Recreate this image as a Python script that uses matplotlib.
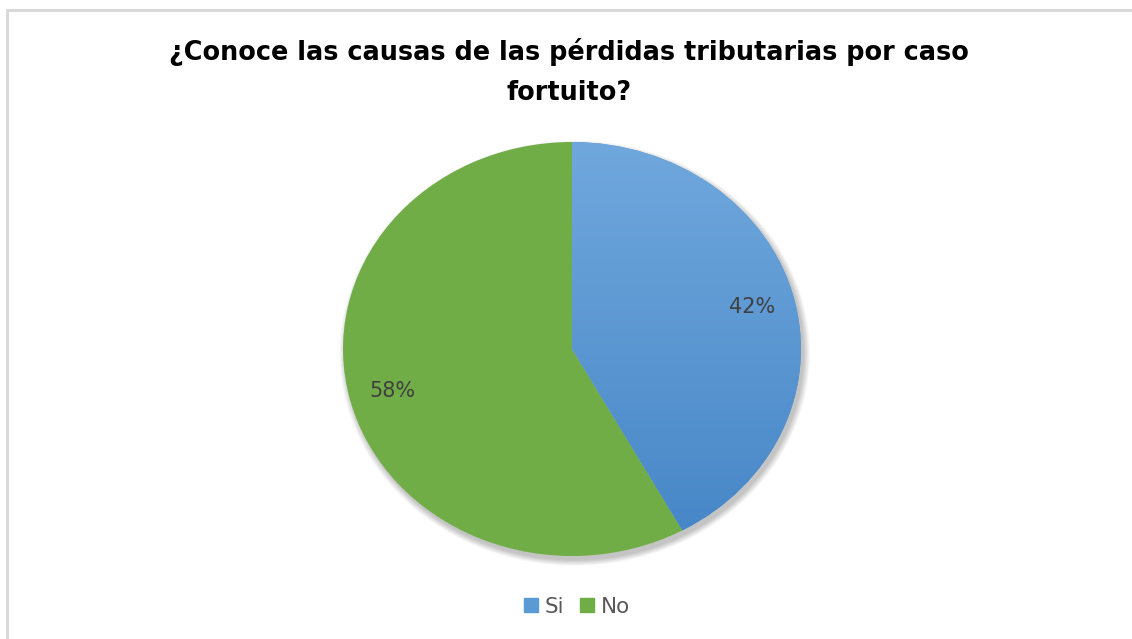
import matplotlib
matplotlib.use("Agg")
import matplotlib.pyplot as plt
import numpy as np
from matplotlib.patches import Ellipse, Rectangle
from matplotlib.lines import Line2D
from matplotlib.colors import LinearSegmentedColormap

# datos de la encuesta
etiquetas = ['Si', 'No']
valores = [42, 58]
colores = ['#5b9bd5', '#70ad47']
titulo = '¿Conoce las causas de las pérdidas tributarias por caso\nfortuito?'

plt.rcParams['font.family'] = ['DejaVu Sans']

fig = plt.figure(figsize=(11.32, 6.39), dpi=100)
fig.patch.set_facecolor('white')

# marco gris del grafico (solo arriba e izquierda se ven)
fig.add_artist(Line2D([7/1132, 7/1132, 1], [0, 1 - 10/639, 1 - 10/639],
                      transform=fig.transFigure, color='#d9d9d9', lw=2.2))

# centro del pastel en (572, 349) px, radios 229 x 207 px
L = 1.1
ax = fig.add_axes([(572 - 229*L)/1132, 1 - (349 + 207*L)/639, 2*229*L/1132, 2*207*L/639])

# sombra difusa abajo a la derecha
for i in range(12):
    d = 0.005 * i
    ax.add_patch(Ellipse((0.012, -0.02), 2 + d, 2 + d, color='black',
                         alpha=0.02, lw=0, zorder=0))

wedges, textos, pcts = ax.pie(valores, colors=colores, startangle=90, counterclock=False,
                              radius=1, center=(0, 0), frame=True, wedgeprops=dict(lw=0),
                              autopct='%1.0f%%', pctdistance=0.81,
                              textprops=dict(color='#404040', fontsize=15))
ax.set_xlim(-L, L)
ax.set_ylim(-L, L)
ax.set_aspect('auto')
ax.axis('off')

# degradado del sector azul
cmap = LinearSegmentedColormap.from_list('az', ['#4585c6', '#70a8dd'])
grad = np.linspace(0, 1, 256).reshape(-1, 1)
im = ax.imshow(grad, extent=[-1, 1, -1, 1], origin='lower', cmap=cmap,
               aspect='auto', zorder=wedges[0].get_zorder() + 0.1)
im.set_clip_path(wedges[0])
ax.set_xlim(-L, L)
ax.set_ylim(-L, L)
for t in pcts:
    t.set_zorder(5)

fig.text(0.503, 1 - 72/639, titulo, ha='center', va='center', fontsize=18.4,
         fontweight='bold', color='black', linespacing=1.75)

# leyenda
leg_items = [Rectangle((0, 0), 1, 1, color=c) for c in colores]
fig.legend(leg_items, etiquetas, loc='center', bbox_to_anchor=(577/1132, 1 - 607/639),
           ncol=2, frameon=False, fontsize=15.5, handlelength=0.65, handleheight=0.62,
           handletextpad=0.33, columnspacing=0.7, labelcolor='#595959')

fig.savefig('out.png', dpi=100)
